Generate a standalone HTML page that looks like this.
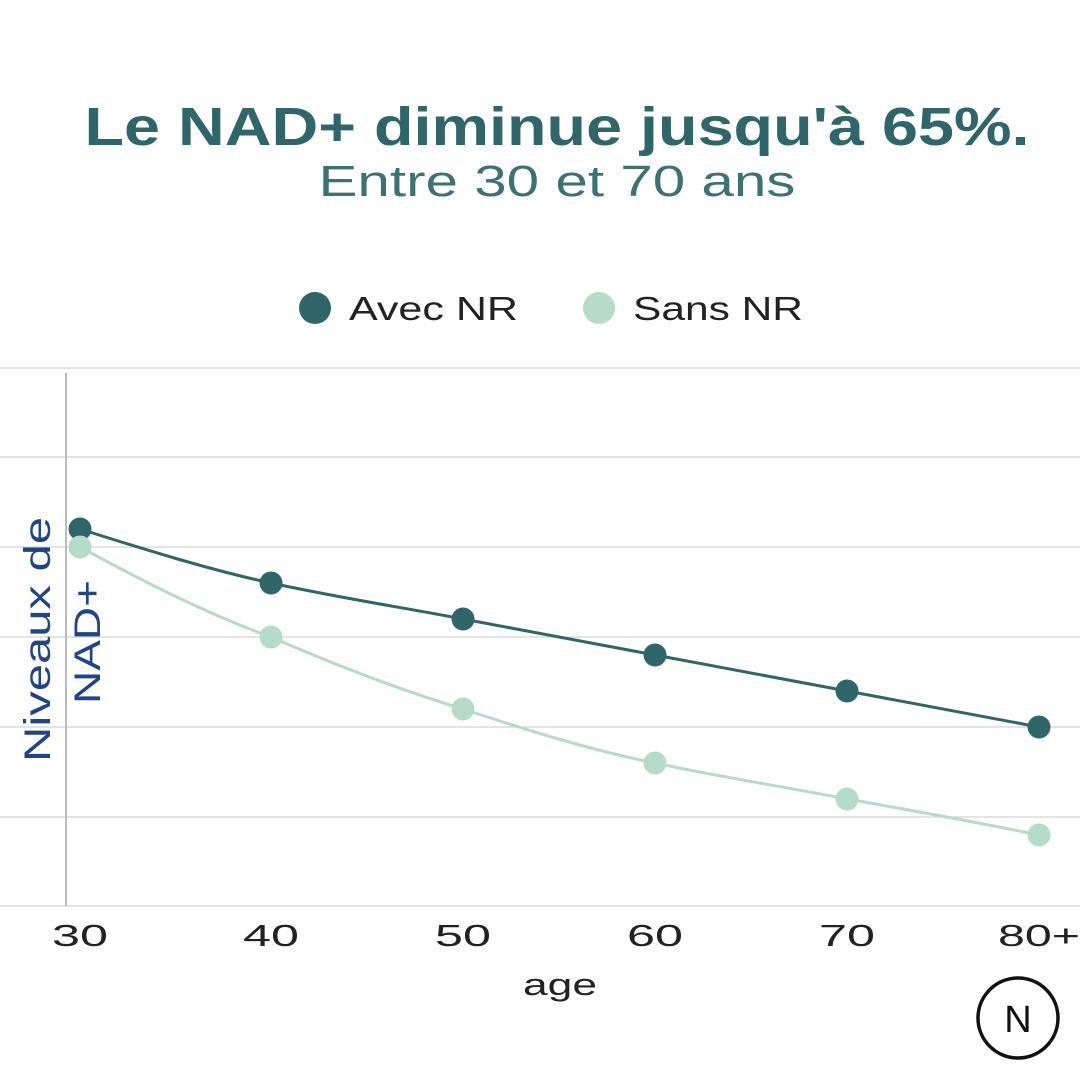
<!DOCTYPE html>
<html><head><meta charset="utf-8"><style>html,body{margin:0;padding:0;background:#fff}</style></head>
<body>
<svg width="1080" height="1080" xmlns="http://www.w3.org/2000/svg" font-family="Liberation Sans, sans-serif">
<rect width="1080" height="1080" fill="#fff"/>
<text x="557" y="145" text-anchor="middle" font-size="54" font-weight="bold" fill="#2e6669" textLength="945" lengthAdjust="spacingAndGlyphs">Le NAD+ diminue jusqu'à 65%.</text>
<text x="557" y="196" text-anchor="middle" font-size="44" fill="#3d7275" textLength="477" lengthAdjust="spacingAndGlyphs">Entre 30 et 70 ans</text>
<circle cx="315" cy="308" r="16" fill="#2e6669"/>
<text x="349" y="320" font-size="33" fill="#222" textLength="169" lengthAdjust="spacingAndGlyphs">Avec NR</text>
<circle cx="599" cy="308" r="16" fill="#b5dbc9"/>
<text x="633" y="320" font-size="33" fill="#222" textLength="170" lengthAdjust="spacingAndGlyphs">Sans NR</text>
<g stroke="#d4d4d4" stroke-width="1.2">
<line x1="0" y1="368" x2="1080" y2="368"/><line x1="0" y1="457" x2="1080" y2="457"/>
<line x1="0" y1="547" x2="1080" y2="547"/><line x1="0" y1="637" x2="1080" y2="637"/>
<line x1="0" y1="727" x2="1080" y2="727"/><line x1="0" y1="817" x2="1080" y2="817"/>
<line x1="0" y1="906" x2="1080" y2="906"/>
</g>
<line x1="66" y1="373" x2="66" y2="906" stroke="#bbb" stroke-width="2"/>
<text transform="translate(50,762) rotate(-90)" font-size="37" fill="#1f4588" textLength="245" lengthAdjust="spacingAndGlyphs">Niveaux de</text>
<text transform="translate(100,704) rotate(-90)" font-size="37" fill="#1f4588" textLength="124" lengthAdjust="spacingAndGlyphs">NAD+</text>
<path d="M80,529 C140,548 210,570 271,583 C340,598 400,607 463,619 L655,655 L847,691 L1039,727" fill="none" stroke="#2e6669" stroke-width="3"/>
<path d="M80,547 C150,585 210,615 271,637 C340,667 400,690 463,709 C530,731 590,750 655,763 C720,777 780,786 847,799 C910,810 975,822 1039,835" fill="none" stroke="#b5dbc9" stroke-width="3"/>
<g fill="#2e6669"><circle cx="80" cy="529" r="11.5"/><circle cx="271" cy="583" r="11.5"/><circle cx="463" cy="619" r="11.5"/><circle cx="655" cy="655" r="11.5"/><circle cx="847" cy="691" r="11.5"/><circle cx="1039" cy="727" r="11.5"/></g>
<g fill="#b5dbc9"><circle cx="80" cy="547" r="11.5"/><circle cx="271" cy="637" r="11.5"/><circle cx="463" cy="709" r="11.5"/><circle cx="655" cy="763" r="11.5"/><circle cx="847" cy="799" r="11.5"/><circle cx="1039" cy="835" r="11.5"/></g>
<g font-size="31" fill="#222" text-anchor="middle" lengthAdjust="spacingAndGlyphs">
<text x="80" y="946" textLength="56" lengthAdjust="spacingAndGlyphs">30</text><text x="271" y="946" textLength="56" lengthAdjust="spacingAndGlyphs">40</text><text x="463" y="946" textLength="56" lengthAdjust="spacingAndGlyphs">50</text><text x="655" y="946" textLength="56" lengthAdjust="spacingAndGlyphs">60</text><text x="847" y="946" textLength="56" lengthAdjust="spacingAndGlyphs">70</text><text x="1039" y="946" textLength="82" lengthAdjust="spacingAndGlyphs">80+</text>
<text x="560" y="995" textLength="74" lengthAdjust="spacingAndGlyphs">age</text>
</g>
<circle cx="1018" cy="1018" r="40" fill="none" stroke="#111" stroke-width="3.5"/>
<text x="1018" y="1032" text-anchor="middle" font-size="38" fill="#111">N</text>
</svg>
</body></html>
